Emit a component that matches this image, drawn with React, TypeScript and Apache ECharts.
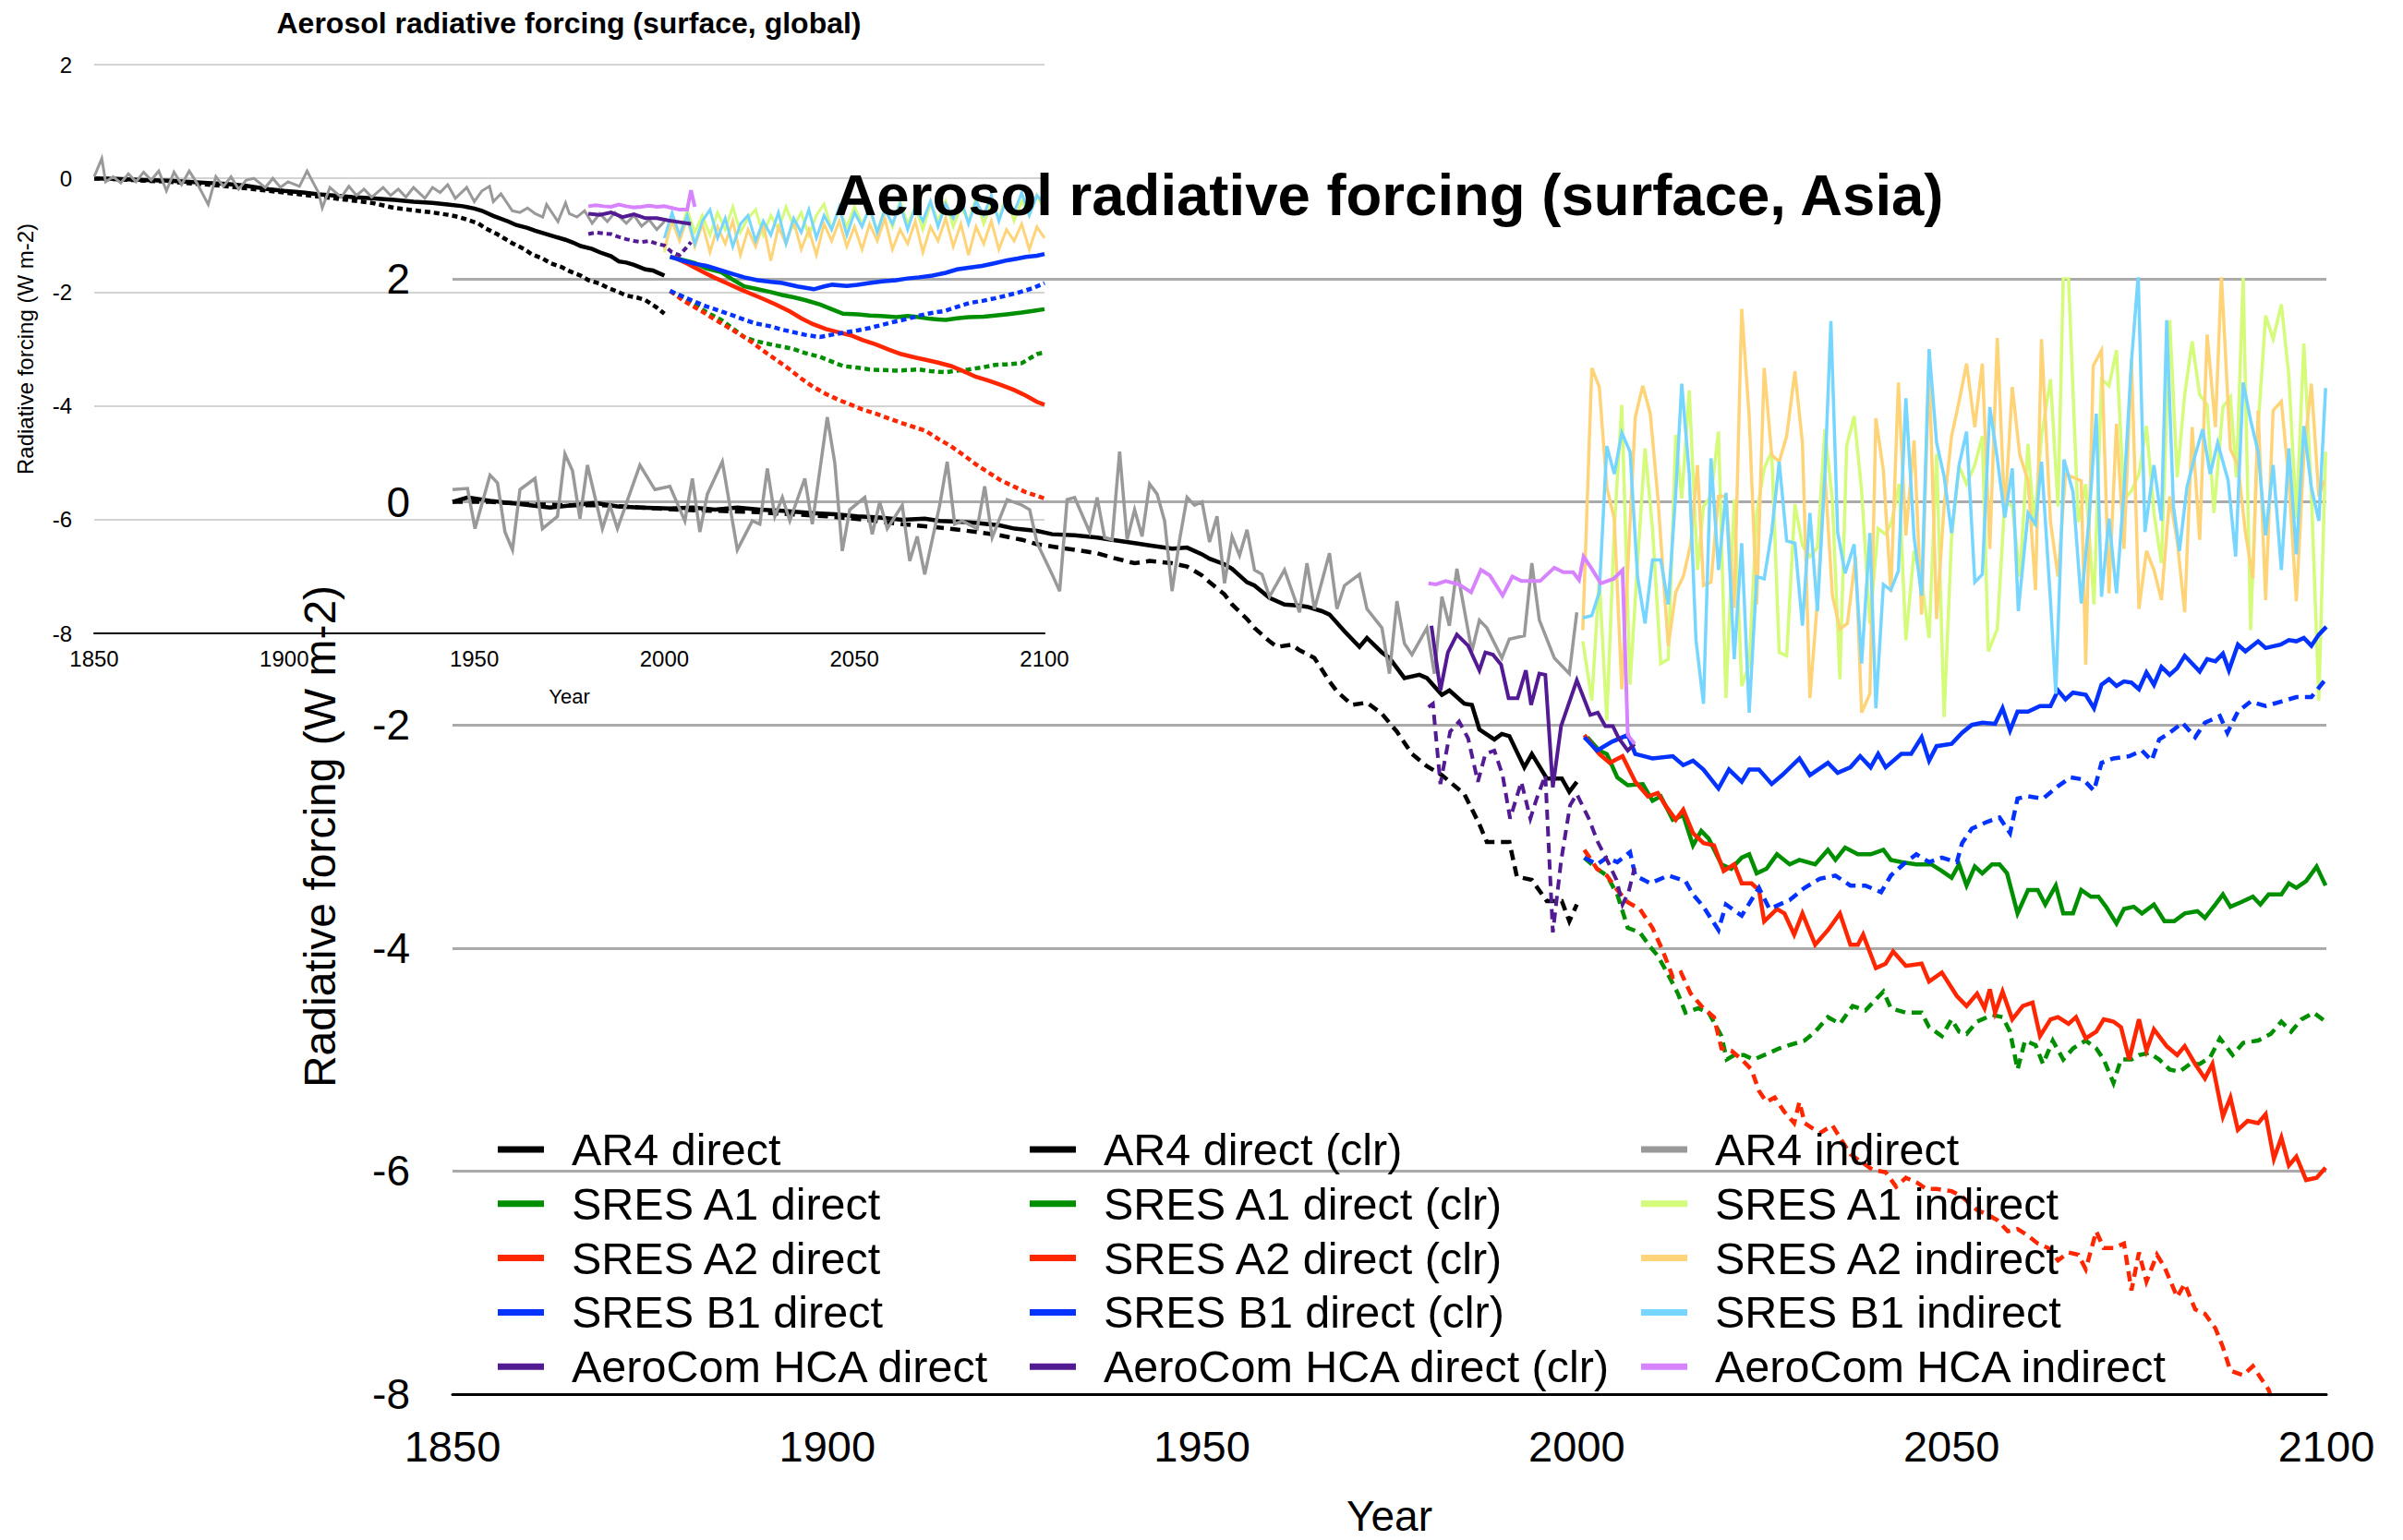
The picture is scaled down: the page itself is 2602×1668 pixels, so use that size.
import React, { useEffect, useRef } from "react";
import * as echarts from "echarts";

type P = [number, number];

// ---------- Tick values ----------
const yearTicks = [1850, 1900, 1950, 2000, 2050, 2100];
const forcingTicks = [-8, -6, -4, -2, 0, 2];

// ---------- Main chart (Asia) ----------
const ar4DirectAsia: P[] = [[1850,0.00],[1852,0.04],[1855,0.01],[1859,-0.02],[1863,-0.05],[1866,-0.03],[1869,-0.01],[1872,-0.04],[1875,-0.05],[1879,-0.06],[1882,-0.05],[1885,-0.07],[1888,-0.05],[1891,-0.07],[1894,-0.08],[1898,-0.10],[1901,-0.11],[1904,-0.13],[1907,-0.14],[1910,-0.16],[1913,-0.15],[1915,-0.17],[1918,-0.18],[1920,-0.19],[1923,-0.21],[1925,-0.24],[1928,-0.26],[1930,-0.29],[1933,-0.30],[1936,-0.32],[1938,-0.34],[1941,-0.37],[1943,-0.39],[1946,-0.42],[1948,-0.41],[1950,-0.47],[1951,-0.51],[1953,-0.56],[1954,-0.60],[1956,-0.72],[1957,-0.75],[1959,-0.86],[1961,-0.92],[1963,-0.93],[1964,-0.94],[1966,-0.98],[1967,-1.01],[1969,-1.16],[1971,-1.30],[1972,-1.22],[1974,-1.35],[1975,-1.40],[1977,-1.58],[1979,-1.55],[1980,-1.58],[1982,-1.73],[1983,-1.69],[1985,-1.81],[1986,-1.82],[1987,-2.04],[1989,-2.13],[1990,-2.08],[1991,-2.10],[1993,-2.38],[1994,-2.26],[1996,-2.48],[1998,-2.48],[1999,-2.60],[2000,-2.51]];
const ar4ClrAsia: P[] = [[1850,0.00],[1855,0.00],[1860,-0.02],[1865,-0.03],[1870,-0.03],[1875,-0.05],[1880,-0.07],[1885,-0.08],[1890,-0.09],[1895,-0.11],[1900,-0.13],[1905,-0.16],[1910,-0.20],[1915,-0.23],[1920,-0.27],[1923,-0.30],[1926,-0.34],[1928,-0.38],[1931,-0.41],[1933,-0.43],[1936,-0.46],[1938,-0.50],[1941,-0.55],[1943,-0.53],[1946,-0.55],[1948,-0.58],[1950,-0.66],[1951,-0.72],[1953,-0.83],[1954,-0.92],[1956,-1.05],[1957,-1.13],[1959,-1.25],[1960,-1.30],[1962,-1.28],[1963,-1.33],[1965,-1.40],[1967,-1.61],[1968,-1.70],[1970,-1.82],[1972,-1.80],[1974,-1.90],[1976,-2.06],[1978,-2.26],[1980,-2.37],[1982,-2.45],[1985,-2.62],[1987,-2.89],[1988,-3.05],[1991,-3.05],[1992,-3.36],[1994,-3.39],[1996,-3.58],[1998,-3.58],[1999,-3.76],[2000,-3.61]];
const ar4IndirectAsia: P[] = [[1850,0.11],[1852,0.12],[1853,-0.24],[1855,0.24],[1856,0.17],[1857,-0.27],[1858,-0.43],[1859,0.11],[1861,0.21],[1862,-0.24],[1864,-0.13],[1865,0.43],[1866,0.28],[1867,-0.15],[1868,0.33],[1870,-0.24],[1871,-0.03],[1872,-0.24],[1875,0.33],[1877,0.11],[1879,0.14],[1881,-0.17],[1882,0.21],[1883,-0.27],[1884,0.07],[1886,0.36],[1888,-0.43],[1890,-0.17],[1891,-0.20],[1892,0.30],[1893,-0.13],[1894,0.04],[1895,-0.17],[1897,0.21],[1898,-0.20],[1900,0.76],[1901,0.35],[1902,-0.44],[1903,-0.07],[1905,0.04],[1906,-0.29],[1907,0.00],[1908,-0.24],[1910,-0.03],[1911,-0.53],[1912,-0.31],[1913,-0.65],[1915,-0.03],[1916,0.36],[1917,-0.20],[1918,-0.17],[1920,-0.24],[1921,0.14],[1922,-0.32],[1924,0.02],[1926,-0.03],[1927,-0.07],[1928,-0.37],[1930,-0.65],[1931,-0.80],[1932,0.02],[1933,0.04],[1935,-0.27],[1936,0.04],[1937,-0.32],[1938,-0.34],[1939,0.45],[1940,-0.34],[1941,-0.07],[1942,-0.31],[1943,0.16],[1944,0.07],[1945,-0.17],[1946,-0.80],[1947,-0.34],[1948,0.04],[1949,-0.03],[1950,0.00],[1951,-0.36],[1952,-0.13],[1953,-0.73],[1954,-0.31],[1955,-0.48],[1956,-0.25],[1957,-0.61],[1958,-0.65],[1959,-0.85],[1961,-0.61],[1963,-0.99],[1964,-0.55],[1965,-0.96],[1967,-0.46],[1968,-0.96],[1969,-0.75],[1971,-0.65],[1972,-0.96],[1974,-1.13],[1975,-1.54],[1976,-0.89],[1977,-1.27],[1978,-1.37],[1980,-1.13],[1981,-1.54],[1982,-0.85],[1983,-1.11],[1984,-0.60],[1986,-1.34],[1987,-1.06],[1988,-1.13],[1990,-1.40],[1991,-1.23],[1993,-1.20],[1994,-0.55],[1995,-1.06],[1997,-1.40],[1999,-1.54],[2000,-0.99]];

const a1DirectAsia: P[] = [[2001.4,-2.11],[2003.0,-2.23],[2004.0,-2.26],[2005.4,-2.47],[2006.8,-2.54],[2008.8,-2.53],[2010.1,-2.68],[2011.2,-2.64],[2012.8,-2.85],[2014.2,-2.81],[2015.5,-3.08],[2016.6,-2.95],[2017.6,-3.02],[2019.3,-3.25],[2020.6,-3.29],[2022.0,-3.19],[2023.0,-3.16],[2024.0,-3.33],[2025.3,-3.29],[2026.7,-3.16],[2028.4,-3.25],[2029.7,-3.21],[2031.8,-3.25],[2033.5,-3.12],[2034.5,-3.21],[2035.8,-3.10],[2037.5,-3.16],[2039.2,-3.16],[2040.9,-3.12],[2041.9,-3.21],[2043.3,-3.23],[2045.3,-3.25],[2047.3,-3.25],[2048.7,-3.31],[2050.0,-3.37],[2051.0,-3.25],[2052.0,-3.44],[2053.1,-3.27],[2054.1,-3.33],[2055.4,-3.25],[2056.4,-3.25],[2057.4,-3.33],[2058.8,-3.69],[2060.2,-3.48],[2061.5,-3.48],[2062.5,-3.61],[2063.9,-3.44],[2064.9,-3.69],[2066.2,-3.69],[2067.3,-3.48],[2068.6,-3.54],[2069.6,-3.54],[2070.6,-3.63],[2072.0,-3.78],[2073.0,-3.65],[2074.3,-3.63],[2075.4,-3.69],[2077.0,-3.61],[2078.4,-3.76],[2079.7,-3.76],[2081.1,-3.69],[2082.8,-3.67],[2083.8,-3.73],[2085.2,-3.61],[2086.2,-3.52],[2087.2,-3.63],[2088.6,-3.59],[2090.2,-3.54],[2091.2,-3.61],[2092.3,-3.52],[2094.0,-3.52],[2095.0,-3.42],[2096.0,-3.46],[2097.3,-3.40],[2098.7,-3.27],[2099.9,-3.44]];
const a1ClrAsia: P[] = [[2001.0,-3.19],[2002.7,-3.29],[2004.0,-3.35],[2005.4,-3.52],[2006.8,-3.82],[2008.4,-3.86],[2009.8,-3.99],[2010.8,-4.07],[2012.2,-4.24],[2013.5,-4.41],[2014.5,-4.58],[2016.2,-4.54],[2017.6,-4.58],[2019.3,-4.79],[2020.0,-5.00],[2021.0,-4.96],[2022.3,-4.96],[2023.6,-5.00],[2025.7,-4.94],[2027.0,-4.90],[2028.4,-4.87],[2030.4,-4.83],[2031.8,-4.75],[2033.5,-4.62],[2035.1,-4.68],[2036.8,-4.52],[2038.5,-4.56],[2040.9,-4.39],[2041.9,-4.54],[2043.9,-4.58],[2046.0,-4.58],[2047.0,-4.71],[2048.7,-4.79],[2050.0,-4.64],[2051.0,-4.75],[2052.0,-4.77],[2053.4,-4.66],[2055.4,-4.60],[2056.8,-4.62],[2057.8,-4.75],[2058.8,-5.09],[2059.8,-4.83],[2061.2,-4.87],[2062.2,-5.04],[2063.5,-4.83],[2064.9,-5.00],[2066.2,-4.90],[2067.9,-4.83],[2069.3,-4.90],[2070.3,-5.00],[2071.6,-5.21],[2072.6,-5.00],[2074.0,-5.00],[2075.0,-4.96],[2076.4,-4.94],[2077.7,-5.00],[2079.1,-5.09],[2080.4,-5.11],[2081.8,-5.04],[2083.1,-5.04],[2084.5,-4.98],[2085.8,-4.81],[2087.5,-4.96],[2088.9,-4.85],[2090.9,-4.83],[2092.6,-4.77],[2094.0,-4.66],[2095.3,-4.75],[2096.7,-4.64],[2098.3,-4.58],[2099.9,-4.66]];
const a1IndirectAsia: P[] = [[2000.8,-1.25],[2002.0,-1.78],[2003.0,-0.68],[2004.0,-1.96],[2005.0,-0.24],[2006.0,0.87],[2007.1,-1.64],[2008.1,-0.55],[2009.1,0.48],[2010.1,-0.24],[2011.2,-1.45],[2012.2,-1.41],[2013.2,0.60],[2014.0,0.03],[2015.0,1.00],[2016.1,-0.61],[2016.9,-0.04],[2017.9,0.05],[2018.9,0.63],[2019.9,-1.76],[2021.0,0.02],[2022.0,-1.65],[2023.0,-1.46],[2024.0,-0.10],[2025.0,0.30],[2026.0,0.45],[2027.0,-1.35],[2028.0,-1.38],[2029.1,-0.02],[2030.1,-0.39],[2031.1,-0.49],[2032.1,-0.41],[2033.1,0.65],[2034.1,0.01],[2035.1,-1.59],[2036.0,0.50],[2037.0,0.77],[2038.0,0.10],[2039.1,-1.09],[2040.2,-0.24],[2041.2,-0.29],[2042.0,-0.18],[2043.0,0.16],[2043.9,-1.24],[2045.0,-0.44],[2046.0,-0.69],[2047.0,-1.22],[2048.0,0.43],[2049.0,-1.93],[2050.0,-0.32],[2051.0,0.32],[2052.0,0.16],[2053.1,0.33],[2054.1,0.59],[2054.9,-1.34],[2056.1,-1.14],[2057.1,0.01],[2058.1,-0.04],[2059.1,-0.67],[2060.2,0.52],[2061.0,-0.22],[2062.0,0.59],[2063.2,1.10],[2064.2,-0.04],[2064.9,2.01],[2065.6,2.01],[2066.9,-0.18],[2067.9,0.16],[2069.0,-0.92],[2070.0,1.10],[2071.0,1.04],[2072.0,1.36],[2073.0,0.02],[2074.0,0.10],[2075.0,0.25],[2076.0,0.68],[2077.0,-0.10],[2078.0,-0.55],[2079.1,1.63],[2080.1,0.22],[2081.1,0.96],[2082.1,1.44],[2083.1,0.96],[2084.1,0.87],[2085.0,-0.10],[2086.2,0.85],[2087.2,0.94],[2088.0,0.22],[2088.9,2.01],[2089.9,-1.15],[2090.9,0.68],[2091.9,1.67],[2092.9,1.46],[2094.0,1.77],[2095.0,1.13],[2096.0,-0.15],[2097.0,1.42],[2098.0,0.08],[2099.0,-1.78],[2099.9,0.45]];

const a2DirectAsia: P[] = [[2001.0,-2.09],[2003.0,-2.26],[2004.4,-2.34],[2006.1,-2.28],[2007.8,-2.51],[2009.5,-2.64],[2010.8,-2.61],[2011.8,-2.72],[2013.2,-2.85],[2014.2,-2.76],[2015.5,-2.97],[2016.9,-3.06],[2018.3,-3.08],[2019.6,-3.31],[2021.0,-3.25],[2022.0,-3.42],[2023.3,-3.42],[2024.3,-3.48],[2025.0,-3.76],[2026.7,-3.65],[2027.7,-3.69],[2029.0,-3.88],[2030.1,-3.69],[2031.8,-3.97],[2033.5,-3.84],[2035.1,-3.69],[2036.5,-3.97],[2037.5,-3.97],[2038.2,-3.88],[2039.9,-4.18],[2041.2,-4.14],[2042.2,-4.03],[2043.9,-4.16],[2046.0,-4.14],[2047.0,-4.30],[2048.7,-4.22],[2050.7,-4.43],[2052.0,-4.52],[2053.4,-4.41],[2054.4,-4.54],[2055.1,-4.37],[2055.8,-4.58],[2056.8,-4.39],[2058.1,-4.64],[2059.5,-4.52],[2060.8,-4.49],[2061.8,-4.79],[2063.2,-4.64],[2064.2,-4.62],[2065.6,-4.68],[2066.6,-4.62],[2067.9,-4.81],[2069.3,-4.75],[2070.3,-4.64],[2071.6,-4.66],[2072.6,-4.71],[2073.7,-5.00],[2075.0,-4.64],[2076.0,-4.92],[2077.0,-4.73],[2078.7,-4.88],[2080.1,-4.96],[2081.1,-4.88],[2082.5,-5.04],[2083.8,-5.17],[2084.8,-5.04],[2086.2,-5.51],[2087.2,-5.34],[2088.2,-5.63],[2089.5,-5.55],[2090.9,-5.57],[2091.9,-5.49],[2093.0,-5.89],[2094.0,-5.70],[2095.0,-5.95],[2096.0,-5.87],[2097.3,-6.08],[2098.7,-6.06],[2099.9,-5.97]];
const a2ClrAsia: P[] = [[2001.0,-3.12],[2002.7,-3.29],[2004.0,-3.35],[2005.4,-3.48],[2006.8,-3.59],[2008.4,-3.65],[2010.1,-3.82],[2011.5,-4.03],[2012.8,-4.26],[2013.9,-4.22],[2015.2,-4.41],[2016.9,-4.54],[2018.3,-4.62],[2019.3,-4.90],[2020.6,-4.92],[2022.0,-5.00],[2023.3,-5.09],[2024.3,-5.28],[2025.3,-5.38],[2026.4,-5.34],[2027.7,-5.47],[2029.0,-5.57],[2029.7,-5.38],[2030.4,-5.57],[2032.4,-5.66],[2034.1,-5.59],[2035.1,-5.70],[2036.5,-5.85],[2037.8,-5.91],[2039.5,-5.99],[2041.2,-6.01],[2042.6,-6.14],[2043.9,-6.06],[2045.3,-6.10],[2046.6,-6.16],[2048.0,-6.16],[2050.0,-6.18],[2051.4,-6.23],[2053.4,-6.35],[2054.8,-6.39],[2056.1,-6.44],[2057.5,-6.54],[2058.8,-6.52],[2060.2,-6.58],[2061.5,-6.65],[2062.9,-6.69],[2064.2,-6.80],[2065.6,-6.73],[2066.9,-6.75],[2067.9,-6.88],[2069.3,-6.54],[2070.3,-6.69],[2071.6,-6.69],[2073.0,-6.65],[2074.0,-7.07],[2075.0,-6.73],[2076.0,-6.99],[2077.4,-6.75],[2078.4,-6.86],[2080.1,-7.13],[2081.1,-7.01],[2082.5,-7.24],[2083.8,-7.28],[2085.2,-7.41],[2086.2,-7.58],[2087.2,-7.79],[2088.9,-7.83],[2090.2,-7.75],[2091.2,-7.85],[2092.3,-7.96],[2092.6,-8.02]];
const a2IndirectAsia: P[] = [[2000.8,-1.15],[2002.0,1.20],[2003.0,1.03],[2004.0,0.13],[2005.0,-0.15],[2006.0,-1.68],[2007.8,0.76],[2008.8,1.04],[2009.8,0.79],[2010.8,0.05],[2012.2,-1.29],[2013.2,-0.81],[2014.2,-0.67],[2015.2,-0.38],[2016.1,0.33],[2016.9,-0.75],[2017.9,-0.72],[2018.9,0.05],[2019.9,0.05],[2021.0,-0.95],[2022.0,1.73],[2023.0,0.76],[2024.0,-0.92],[2025.0,1.20],[2026.0,0.42],[2027.0,0.36],[2028.0,0.59],[2029.1,1.17],[2030.1,0.53],[2031.1,-1.76],[2032.1,-0.89],[2033.1,0.25],[2034.1,-0.84],[2035.1,-1.14],[2036.1,-1.09],[2037.2,-0.49],[2038.0,-1.89],[2039.1,-1.72],[2039.9,0.75],[2040.9,0.28],[2041.9,-0.81],[2042.9,1.07],[2043.9,-0.30],[2045.0,0.55],[2046.0,-1.01],[2047.0,1.23],[2048.0,-1.05],[2049.0,-0.04],[2050.0,0.59],[2051.0,0.90],[2052.0,1.24],[2053.1,0.67],[2054.1,1.24],[2055.1,-0.42],[2056.1,1.47],[2057.1,-0.12],[2058.1,1.03],[2059.1,0.42],[2060.2,0.19],[2061.2,-0.79],[2062.0,1.46],[2063.2,-0.18],[2064.2,-0.67],[2065.2,0.25],[2066.2,0.22],[2067.3,0.19],[2067.9,-1.46],[2068.9,1.22],[2070.0,1.36],[2071.0,-0.82],[2072.0,0.70],[2073.0,-0.42],[2074.0,1.27],[2075.0,-0.96],[2076.0,-0.44],[2077.0,-0.61],[2078.0,-0.88],[2079.1,0.05],[2080.1,-0.35],[2081.1,-0.99],[2082.1,0.67],[2083.1,-0.34],[2084.1,1.50],[2085.2,0.67],[2086.0,2.03],[2087.2,0.47],[2088.2,0.33],[2089.2,-0.27],[2090.2,-0.69],[2090.9,0.82],[2091.9,-0.88],[2092.9,0.82],[2094.0,0.90],[2095.0,0.19],[2096.0,-0.89],[2097.0,0.42],[2098.0,1.06],[2099.0,0.05],[2099.7,0.19]];

const b1DirectAsia: P[] = [[2001.0,-2.11],[2002.7,-2.23],[2004.7,-2.15],[2006.8,-2.09],[2007.8,-2.26],[2010.1,-2.30],[2012.8,-2.28],[2014.2,-2.36],[2015.5,-2.32],[2016.9,-2.40],[2018.9,-2.57],[2020.3,-2.40],[2022.0,-2.51],[2023.0,-2.40],[2024.3,-2.40],[2026.0,-2.53],[2027.4,-2.45],[2029.7,-2.30],[2031.1,-2.45],[2033.5,-2.34],[2034.8,-2.43],[2036.5,-2.38],[2037.8,-2.28],[2039.2,-2.38],[2040.2,-2.26],[2041.2,-2.38],[2043.3,-2.26],[2044.6,-2.26],[2046.0,-2.11],[2047.0,-2.32],[2048.0,-2.19],[2050.0,-2.17],[2051.4,-2.07],[2052.7,-2.00],[2054.1,-1.98],[2055.8,-1.99],[2056.8,-1.85],[2057.8,-2.05],[2058.8,-1.88],[2060.2,-1.88],[2061.8,-1.83],[2063.2,-1.83],[2064.2,-1.69],[2065.2,-1.77],[2066.2,-1.71],[2067.9,-1.73],[2069.0,-1.85],[2070.0,-1.64],[2071.0,-1.59],[2072.0,-1.65],[2073.0,-1.61],[2074.0,-1.62],[2075.0,-1.68],[2076.0,-1.53],[2077.0,-1.64],[2078.0,-1.48],[2079.1,-1.55],[2080.1,-1.49],[2081.1,-1.38],[2082.1,-1.45],[2083.1,-1.52],[2084.1,-1.41],[2085.2,-1.43],[2086.2,-1.36],[2087.0,-1.51],[2088.2,-1.28],[2089.2,-1.34],[2090.9,-1.25],[2091.9,-1.31],[2093.9,-1.28],[2095.0,-1.24],[2096.0,-1.25],[2097.0,-1.22],[2098.0,-1.29],[2099.0,-1.19],[2100.0,-1.12]];
const b1ClrAsia: P[] = [[2001.0,-3.19],[2002.7,-3.25],[2004.0,-3.19],[2005.4,-3.23],[2007.1,-3.14],[2007.8,-3.35],[2009.8,-3.42],[2012.2,-3.35],[2014.5,-3.40],[2015.5,-3.52],[2016.9,-3.63],[2018.9,-3.84],[2019.9,-3.61],[2022.0,-3.71],[2024.3,-3.46],[2025.7,-3.65],[2028.4,-3.57],[2030.4,-3.46],[2032.4,-3.38],[2034.5,-3.35],[2036.5,-3.44],[2038.5,-3.44],[2040.6,-3.50],[2041.9,-3.35],[2043.9,-3.23],[2045.3,-3.16],[2047.0,-3.23],[2048.7,-3.19],[2050.7,-3.23],[2051.4,-3.06],[2052.7,-2.93],[2054.7,-2.87],[2056.4,-2.83],[2057.8,-2.97],[2058.8,-2.66],[2060.2,-2.64],[2062.2,-2.66],[2064.2,-2.55],[2065.9,-2.47],[2067.6,-2.49],[2069.0,-2.59],[2070.0,-2.34],[2071.6,-2.30],[2073.7,-2.28],[2075.4,-2.23],[2076.7,-2.32],[2077.7,-2.13],[2079.1,-2.07],[2080.8,-1.98],[2082.5,-2.11],[2083.8,-1.98],[2085.8,-1.92],[2086.8,-2.07],[2088.2,-1.88],[2089.9,-1.79],[2091.9,-1.83],[2094.0,-1.79],[2096.0,-1.75],[2098.0,-1.75],[2099.9,-1.59]];
const b1IndirectAsia: P[] = [[2000.8,-1.04],[2002.0,-1.02],[2003.0,-0.81],[2004.0,0.50],[2005.0,0.25],[2006.0,0.62],[2007.1,0.45],[2008.1,-0.67],[2009.1,-1.09],[2010.1,-0.52],[2011.2,-0.52],[2012.2,-0.92],[2013.2,0.08],[2014.0,1.06],[2015.0,0.25],[2015.9,-1.24],[2016.9,-1.81],[2017.9,0.39],[2018.9,-0.61],[2019.9,0.08],[2021.0,-1.41],[2022.0,-0.37],[2023.0,-1.89],[2024.0,-0.67],[2025.0,-0.69],[2026.0,-0.27],[2027.0,0.36],[2028.0,-0.35],[2029.1,-0.37],[2030.1,-1.11],[2031.1,-0.10],[2032.1,-0.98],[2033.1,0.25],[2033.9,1.62],[2034.8,-0.27],[2035.8,-0.64],[2037.0,-0.38],[2038.0,-1.45],[2039.1,-0.28],[2039.9,-1.85],[2040.9,-0.74],[2041.9,-0.79],[2042.9,-0.62],[2043.9,0.93],[2045.0,-0.32],[2046.0,-0.84],[2047.0,1.37],[2048.0,0.53],[2049.0,0.23],[2050.0,-0.28],[2051.0,0.33],[2052.0,0.63],[2053.1,-0.72],[2054.1,-0.65],[2055.1,0.85],[2056.1,0.39],[2057.1,-0.14],[2058.1,0.30],[2058.9,-0.98],[2060.2,-0.10],[2061.2,-0.20],[2062.0,0.36],[2063.2,-0.89],[2063.9,-1.72],[2065.0,0.38],[2066.2,0.09],[2067.3,-0.91],[2068.3,-0.18],[2069.3,0.79],[2070.0,-0.85],[2071.0,-0.15],[2072.0,-0.82],[2073.0,0.10],[2074.0,1.26],[2074.9,2.03],[2075.8,-0.27],[2077.0,0.33],[2078.0,-0.17],[2078.7,1.63],[2079.6,-0.04],[2080.4,-0.44],[2081.4,0.13],[2082.5,0.42],[2083.5,0.65],[2084.5,0.25],[2085.5,0.53],[2086.9,0.19],[2087.9,-0.49],[2088.9,1.07],[2089.9,0.73],[2090.9,0.45],[2091.9,-0.30],[2092.9,0.33],[2094.0,-0.61],[2095.0,0.48],[2096.0,-0.47],[2097.0,0.68],[2098.0,0.13],[2099.0,-0.17],[2099.9,1.02]];

const hcaDirectAsia: P[] = [[1980.6,-1.11],[1981.8,-1.69],[1982.8,-1.35],[1984.0,-1.19],[1985.5,-1.29],[1987.0,-1.51],[1987.8,-1.35],[1988.8,-1.37],[1989.9,-1.46],[1990.9,-1.76],[1992.1,-1.76],[1993.2,-1.51],[1993.9,-1.82],[1995.0,-1.54],[1995.8,-1.55],[1996.8,-2.56],[1997.9,-2.01],[2000.0,-1.60],[2001.8,-1.91],[2002.8,-1.89],[2003.8,-2.01],[2004.8,-2.01],[2005.6,-2.12],[2006.8,-2.23],[2007.7,-2.17]];
const hcaClrAsia: P[] = [[1980.2,-1.84],[1980.8,-1.81],[1981.8,-2.53],[1983.1,-2.06],[1984.3,-1.97],[1985.5,-2.12],[1986.8,-2.51],[1987.8,-2.26],[1989.0,-2.23],[1990.1,-2.45],[1991.1,-2.84],[1992.6,-2.51],[1993.8,-2.84],[1994.6,-2.67],[1995.8,-2.45],[1996.8,-3.86],[1997.9,-3.22],[1999.1,-2.72],[2000.0,-2.62],[2001.6,-2.84],[2002.8,-3.05],[2004.1,-3.22],[2005.3,-3.39],[2006.1,-3.61],[2006.9,-3.50],[2007.7,-3.28]];
const hcaIndirectAsia: P[] = [[1980.2,-0.73],[1981.2,-0.74],[1982.5,-0.71],[1984.3,-0.74],[1985.9,-0.81],[1987.2,-0.61],[1988.4,-0.66],[1990.1,-0.84],[1991.4,-0.67],[1992.6,-0.71],[1993.8,-0.71],[1995.1,-0.71],[1997.0,-0.59],[1998.2,-0.63],[1999.5,-0.63],[2000.3,-0.70],[2000.9,-0.49],[2001.9,-0.59],[2003.2,-0.73],[2004.9,-0.69],[2006.1,-0.61],[2006.8,-2.09],[2007.7,-2.17]];

// ---------- Inset chart (global) ----------
const ar4DirectGlobal: P[] = [[1850,0],[1856,-0.01],[1863,-0.03],[1870,-0.04],[1875,-0.06],[1880,-0.08],[1885,-0.10],[1890,-0.13],[1896,-0.19],[1900,-0.22],[1905,-0.25],[1909,-0.28],[1913,-0.30],[1918,-0.33],[1923,-0.35],[1929,-0.38],[1934,-0.41],[1939,-0.43],[1943,-0.46],[1947,-0.49],[1950,-0.53],[1952,-0.57],[1955,-0.66],[1959,-0.76],[1961,-0.82],[1964,-0.87],[1966,-0.92],[1969,-0.98],[1971,-1.02],[1974,-1.08],[1976,-1.13],[1978,-1.19],[1981,-1.24],[1983,-1.30],[1986,-1.37],[1988,-1.46],[1990,-1.48],[1992,-1.52],[1995,-1.60],[1997,-1.62],[1998,-1.65],[2000,-1.71]];
const ar4ClrGlobal: P[] = [[1850,0],[1860,-0.03],[1870,-0.06],[1880,-0.11],[1888,-0.16],[1896,-0.22],[1904,-0.28],[1913,-0.35],[1918,-0.39],[1923,-0.43],[1929,-0.52],[1934,-0.56],[1939,-0.60],[1943,-0.64],[1946,-0.68],[1951,-0.79],[1953,-0.88],[1956,-0.98],[1958,-1.06],[1960,-1.14],[1963,-1.24],[1965,-1.33],[1968,-1.41],[1970,-1.49],[1973,-1.56],[1975,-1.63],[1978,-1.71],[1980,-1.79],[1983,-1.85],[1985,-1.92],[1988,-2.00],[1990,-2.06],[1993,-2.10],[1995,-2.14],[1998,-2.27],[2000,-2.38]];
const ar4IndirectGlobal: P[] = [[1850,0.03],[1852,0.35],[1853,-0.06],[1855,0.03],[1857,-0.08],[1859,0.08],[1861,-0.06],[1863,0.11],[1865,-0.03],[1867,0.13],[1869,-0.22],[1871,0.11],[1873,-0.11],[1875,0.13],[1877,-0.08],[1880,-0.46],[1882,0.03],[1884,-0.14],[1886,0.03],[1888,-0.19],[1890,-0.03],[1892,0.00],[1895,-0.16],[1897,0.00],[1899,-0.16],[1901,-0.06],[1904,-0.14],[1906,0.13],[1909,-0.25],[1910,-0.52],[1912,-0.16],[1915,-0.33],[1917,-0.14],[1919,-0.30],[1921,-0.19],[1923,-0.33],[1926,-0.16],[1928,-0.30],[1930,-0.19],[1932,-0.33],[1934,-0.16],[1937,-0.35],[1939,-0.16],[1941,-0.25],[1943,-0.11],[1945,-0.35],[1948,-0.16],[1950,-0.41],[1952,-0.22],[1954,-0.14],[1955,-0.41],[1957,-0.27],[1960,-0.57],[1962,-0.60],[1964,-0.52],[1966,-0.62],[1968,-0.68],[1969,-0.46],[1972,-0.76],[1974,-0.43],[1975,-0.62],[1977,-0.68],[1979,-0.57],[1981,-0.79],[1983,-0.62],[1985,-0.76],[1987,-0.60],[1990,-0.79],[1992,-0.65],[1994,-0.84],[1996,-0.73],[1998,-0.90],[2000,-0.76]];

const a1DirectGlobal: P[] = [[2001.5,-1.38],[2004,-1.42],[2008,-1.49],[2011,-1.58],[2015,-1.65],[2018,-1.78],[2021,-1.90],[2024,-1.94],[2028,-2.00],[2031,-2.05],[2034,-2.09],[2037,-2.14],[2041,-2.22],[2044,-2.30],[2047,-2.38],[2051,-2.39],[2054,-2.41],[2057,-2.42],[2061,-2.44],[2064,-2.42],[2067,-2.44],[2070,-2.47],[2074,-2.49],[2077,-2.46],[2080,-2.44],[2084,-2.43],[2087,-2.41],[2090,-2.39],[2094,-2.36],[2097,-2.33],[2100,-2.30]];
const a1ClrGlobal: P[] = [[2001.5,-1.98],[2005,-2.10],[2008,-2.22],[2011,-2.35],[2015,-2.49],[2018,-2.64],[2021,-2.79],[2024,-2.86],[2028,-2.92],[2031,-2.96],[2034,-3.00],[2037,-3.07],[2041,-3.14],[2044,-3.22],[2047,-3.30],[2051,-3.33],[2054,-3.36],[2057,-3.37],[2061,-3.38],[2064,-3.37],[2067,-3.36],[2070,-3.39],[2074,-3.41],[2077,-3.38],[2080,-3.36],[2084,-3.32],[2087,-3.28],[2090,-3.27],[2094,-3.25],[2098,-3.09],[2100,-3.06]];
const a1IndirectGlobal: P[] = [[2000,-1.30],[2002,-0.70],[2004,-1.00],[2006,-0.55],[2008,-0.95],[2010,-0.65],[2012,-1.00],[2014,-0.60],[2016,-0.90],[2018,-0.50],[2020,-0.95],[2022,-0.70],[2024,-0.55],[2026,-1.00],[2028,-0.65],[2030,-0.90],[2032,-0.50],[2034,-0.85],[2036,-0.60],[2038,-1.00],[2040,-0.65],[2042,-0.45],[2044,-0.90],[2046,-0.55],[2048,-0.85],[2050,-0.50],[2052,-0.80],[2054,-0.55],[2056,-0.95],[2058,-0.50],[2060,-0.85],[2062,-0.40],[2064,-0.80],[2066,-0.50],[2068,-0.90],[2070,-0.45],[2072,-0.75],[2074,-0.40],[2076,-0.85],[2078,-0.50],[2080,-0.75],[2082,-0.35],[2084,-0.80],[2086,-0.45],[2088,-0.70],[2090,-0.30],[2092,-0.75],[2094,-0.40],[2096,-0.65],[2098,-0.30],[2100,-0.55]];

const a2DirectGlobal: P[] = [[2002.3,-1.38],[2006,-1.50],[2009.7,-1.63],[2013,-1.74],[2016.3,-1.84],[2020,-1.95],[2022.8,-2.03],[2026,-2.12],[2029.4,-2.22],[2033,-2.34],[2036,-2.46],[2039,-2.56],[2042.5,-2.65],[2046,-2.71],[2049.1,-2.76],[2052,-2.84],[2055.7,-2.92],[2059,-3.01],[2062.3,-3.09],[2066,-3.15],[2068.8,-3.19],[2072,-3.24],[2075.4,-3.30],[2079,-3.40],[2082,-3.49],[2085,-3.55],[2088.5,-3.63],[2092,-3.72],[2095.1,-3.82],[2098,-3.93],[2100,-3.98]];
const a2ClrGlobal: P[] = [[2001.5,-1.98],[2005,-2.15],[2009.7,-2.33],[2013,-2.47],[2016.3,-2.60],[2020,-2.75],[2022.8,-2.87],[2026,-3.03],[2029.4,-3.19],[2033,-3.36],[2036,-3.52],[2039,-3.66],[2042.5,-3.79],[2046,-3.90],[2049.1,-3.98],[2052,-4.06],[2055.7,-4.14],[2059,-4.22],[2062.3,-4.30],[2066,-4.38],[2068.8,-4.44],[2072,-4.58],[2075.4,-4.71],[2079,-4.88],[2082,-5.03],[2085,-5.16],[2088.5,-5.31],[2092,-5.42],[2095.1,-5.52],[2098,-5.58],[2100,-5.63]];
const a2IndirectGlobal: P[] = [[2000,-1.25],[2002,-0.75],[2004,-1.10],[2006,-0.70],[2008,-1.20],[2010,-0.80],[2012,-1.30],[2014,-0.85],[2016,-1.15],[2018,-0.75],[2020,-1.35],[2022,-0.90],[2024,-1.20],[2026,-0.80],[2028,-1.45],[2030,-0.85],[2032,-1.15],[2034,-0.75],[2036,-1.25],[2038,-0.90],[2040,-1.35],[2042,-0.80],[2044,-1.10],[2046,-0.75],[2048,-1.20],[2050,-0.85],[2052,-1.25],[2054,-0.80],[2056,-1.10],[2058,-0.70],[2060,-1.25],[2062,-0.90],[2064,-1.15],[2066,-0.75],[2068,-1.30],[2070,-0.85],[2072,-1.10],[2074,-0.70],[2076,-1.20],[2078,-0.80],[2080,-1.35],[2082,-0.85],[2084,-1.15],[2086,-0.75],[2088,-1.25],[2090,-0.90],[2092,-1.10],[2094,-0.80],[2096,-1.25],[2098,-0.85],[2100,-1.05]];

const b1DirectGlobal: P[] = [[2001.5,-1.38],[2005,-1.45],[2008,-1.50],[2011.3,-1.54],[2015,-1.62],[2017.9,-1.68],[2021,-1.74],[2024.5,-1.79],[2028,-1.82],[2031,-1.84],[2035,-1.90],[2039.3,-1.95],[2042,-1.90],[2044.2,-1.87],[2048,-1.89],[2050.8,-1.87],[2054,-1.84],[2057.3,-1.81],[2061,-1.79],[2063.9,-1.76],[2067,-1.74],[2070.5,-1.71],[2074,-1.66],[2077,-1.60],[2080,-1.57],[2083.6,-1.54],[2087,-1.49],[2090.2,-1.44],[2093,-1.41],[2095.1,-1.38],[2098,-1.36],[2100,-1.33]];
const b1ClrGlobal: P[] = [[2001.5,-1.98],[2005,-2.08],[2008.1,-2.17],[2011,-2.25],[2014.6,-2.33],[2018,-2.41],[2021.2,-2.49],[2024,-2.55],[2027.8,-2.60],[2031,-2.66],[2034.3,-2.71],[2037,-2.75],[2040.9,-2.79],[2044,-2.75],[2047.5,-2.71],[2051,-2.67],[2054,-2.63],[2057,-2.58],[2060.6,-2.52],[2064,-2.47],[2067.2,-2.41],[2070,-2.37],[2073.8,-2.33],[2077,-2.26],[2080.3,-2.19],[2084,-2.15],[2086.9,-2.11],[2090,-2.06],[2093.5,-2.00],[2097,-1.93],[2100,-1.84]];
const b1IndirectGlobal: P[] = [[2000,-1.05],[2002,-0.60],[2004,-1.00],[2006,-0.65],[2008,-1.15],[2010,-0.75],[2012,-0.55],[2014,-1.05],[2016,-0.70],[2018,-1.20],[2020,-0.80],[2022,-0.65],[2024,-1.10],[2026,-0.75],[2028,-1.00],[2030,-0.60],[2032,-1.15],[2034,-0.70],[2036,-0.95],[2038,-0.55],[2040,-1.05],[2042,-0.65],[2044,-0.90],[2046,-0.50],[2048,-1.00],[2050,-0.60],[2052,-0.85],[2054,-0.50],[2056,-0.95],[2058,-0.55],[2060,-0.80],[2062,-0.45],[2064,-0.90],[2066,-0.50],[2068,-0.75],[2070,-0.40],[2072,-0.85],[2074,-0.45],[2076,-0.70],[2078,-0.35],[2080,-0.80],[2082,-0.40],[2084,-0.65],[2086,-0.30],[2088,-0.75],[2090,-0.35],[2092,-0.60],[2094,-0.25],[2096,-0.65],[2098,-0.30],[2100,-0.45]];

const hcaDirectGlobal: P[] = [[1980,-0.62],[1983,-0.64],[1986,-0.60],[1989,-0.68],[1992,-0.63],[1995,-0.70],[1998,-0.70],[2001,-0.74],[2004,-0.77],[2007,-0.80]];
const hcaClrGlobal: P[] = [[1980,-0.98],[1982,-0.95],[1984,-0.97],[1986,-0.98],[1988,-1.03],[1990,-1.07],[1992,-1.10],[1994,-1.12],[1996,-1.10],[1998,-1.15],[2000,-1.18],[2002,-1.30],[2004,-1.35],[2006,-1.20],[2007,-1.12]];
const hcaIndirectGlobal: P[] = [[1980,-0.49],[1982,-0.47],[1984,-0.49],[1986,-0.50],[1988,-0.46],[1990,-0.49],[1992,-0.51],[1994,-0.50],[1996,-0.48],[1998,-0.50],[2000,-0.49],[2002,-0.52],[2004,-0.55],[2006,-0.55],[2007,-0.21],[2008,-0.50]];

// ---------- Legend names ----------
const legendCol1 = ["AR4 direct", "SRES A1 direct", "SRES A2 direct", "SRES B1 direct", "AeroCom HCA direct"];
const legendCol2 = ["AR4 direct (clr)", "SRES A1 direct (clr)", "SRES A2 direct (clr)", "SRES B1 direct (clr)", "AeroCom HCA direct (clr)"];
const legendCol3 = ["AR4 indirect", "SRES A1 indirect", "SRES A2 indirect", "SRES B1 indirect", "AeroCom HCA indirect"];

const C = {
  black: "#000000",
  gray: "#999999",
  green: "#008F00",
  red: "#FF2600",
  blue: "#0433FF",
  purple: "#531B93",
  lime: "#D4FB79",
  orange: "#FFD479",
  sky: "#76D6FF",
  lavender: "#D783FF",
};

const FONT = "Liberation Sans";

function mk(name: string, data: P[], color: string, width: number, dashed: number[] | null, idx: number) {
  return {
    name,
    type: "line",
    xAxisIndex: idx,
    yAxisIndex: idx,
    data,
    showSymbol: false,
    symbol: "none",
    silent: true,
    color,
    lineStyle: { color, width, type: dashed ? dashed : "solid", cap: "butt", join: "miter" },
    z: 2,
  };
}

export default function App() {
  const ref = useRef<HTMLDivElement>(null);
  useEffect(() => {
    if (!ref.current) return;
    const chart = echarts.init(ref.current, undefined, { renderer: "svg" });

    const mD = [11, 7];
    const iD = [6, 4];
    const mainSeries = [
      mk("AR4 direct", ar4DirectAsia, C.black, 4.5, null, 0),
      mk("AR4 direct (clr)", ar4ClrAsia, C.black, 4.5, mD, 0),
      mk("AR4 indirect", ar4IndirectAsia, C.gray, 3.5, null, 0),
      mk("SRES A1 direct", a1DirectAsia, C.green, 4.5, null, 0),
      mk("SRES A1 direct (clr)", a1ClrAsia, C.green, 4.5, mD, 0),
      mk("SRES A1 indirect", a1IndirectAsia, C.lime, 3.5, null, 0),
      mk("SRES A2 direct", a2DirectAsia, C.red, 4.5, null, 0),
      mk("SRES A2 direct (clr)", a2ClrAsia, C.red, 4.5, mD, 0),
      mk("SRES A2 indirect", a2IndirectAsia, C.orange, 3.5, null, 0),
      mk("SRES B1 direct", b1DirectAsia, C.blue, 4.5, null, 0),
      mk("SRES B1 direct (clr)", b1ClrAsia, C.blue, 4.5, mD, 0),
      mk("SRES B1 indirect", b1IndirectAsia, C.sky, 3.5, null, 0),
      mk("AeroCom HCA direct", hcaDirectAsia, C.purple, 4, null, 0),
      mk("AeroCom HCA direct (clr)", hcaClrAsia, C.purple, 4, mD, 0),
      mk("AeroCom HCA indirect", hcaIndirectAsia, C.lavender, 4, null, 0),
    ];
    const insetSeries = [
      mk("g AR4 direct", ar4DirectGlobal, C.black, 4.5, null, 1),
      mk("g AR4 direct (clr)", ar4ClrGlobal, C.black, 4.5, iD, 1),
      mk("g AR4 indirect", ar4IndirectGlobal, C.gray, 3, null, 1),
      mk("g SRES A1 direct", a1DirectGlobal, C.green, 4.5, null, 1),
      mk("g SRES A1 direct (clr)", a1ClrGlobal, C.green, 4.5, iD, 1),
      mk("g SRES A1 indirect", a1IndirectGlobal, C.lime, 3, null, 1),
      mk("g SRES A2 direct", a2DirectGlobal, C.red, 4.5, null, 1),
      mk("g SRES A2 direct (clr)", a2ClrGlobal, C.red, 4.5, iD, 1),
      mk("g SRES A2 indirect", a2IndirectGlobal, C.orange, 3, null, 1),
      mk("g SRES B1 direct", b1DirectGlobal, C.blue, 4.5, null, 1),
      mk("g SRES B1 direct (clr)", b1ClrGlobal, C.blue, 4.5, iD, 1),
      mk("g SRES B1 indirect", b1IndirectGlobal, C.sky, 3, null, 1),
      mk("g AeroCom HCA direct", hcaDirectGlobal, C.purple, 4, null, 1),
      mk("g AeroCom HCA direct (clr)", hcaClrGlobal, C.purple, 4, iD, 1),
      mk("g AeroCom HCA indirect", hcaIndirectGlobal, C.lavender, 4, null, 1),
    ];

    const legendBase = (data: string[], left: number) => ({
      data,
      orient: "vertical",
      left,
      top: 1220,
      icon: "rect",
      itemWidth: 50,
      itemHeight: 7,
      itemGap: 8.8,
      selectedMode: false,
      padding: 0,
      textStyle: { fontSize: 48.5, lineHeight: 50, color: "#000", fontFamily: FONT, padding: [0, 0, 0, 25] },
    });

    const yearFmt = (v: number) => String(v);

    chart.setOption({
      animation: false,
      backgroundColor: "#ffffff",
      textStyle: { fontFamily: FONT },
      grid: [
        { left: 490, right: 83, top: 302, bottom: 158, containLabel: false, outerBoundsMode: "none" },
        { left: 102, right: 1471, top: 70, bottom: 982, containLabel: false, outerBoundsMode: "none" },
      ],
      xAxis: [
        {
          gridIndex: 0, type: "value", min: yearTicks[0], max: yearTicks[yearTicks.length - 1], interval: 50,
          axisLine: { show: true, onZero: false, lineStyle: { color: "#000", width: 3 } },
          axisTick: { show: false }, splitLine: { show: false },
          axisLabel: { fontSize: 47, margin: 33, color: "#000", fontFamily: FONT, formatter: yearFmt },
          name: "Year", nameLocation: "middle", nameGap: 108,
          nameTextStyle: { fontSize: 46, lineHeight: 48, color: "#000", fontFamily: FONT },
          z: 5,
        },
        {
          gridIndex: 1, type: "value", min: yearTicks[0], max: yearTicks[yearTicks.length - 1], interval: 50,
          axisLine: { show: true, onZero: false, lineStyle: { color: "#000", width: 2 } },
          axisTick: { show: false }, splitLine: { show: false },
          axisLabel: { fontSize: 24, margin: 15, color: "#000", fontFamily: FONT, formatter: yearFmt },
          name: "Year", nameLocation: "middle", nameGap: 57,
          nameTextStyle: { fontSize: 22, color: "#000", fontFamily: FONT },
          z: 5,
        },
      ],
      yAxis: [
        {
          gridIndex: 0, type: "value", min: forcingTicks[0], max: forcingTicks[forcingTicks.length - 1], interval: 2,
          axisLine: { show: false }, axisTick: { show: false },
          splitLine: { show: true, showMinLine: false, lineStyle: { color: "#aaaaaa", width: 3 } },
          axisLabel: { fontSize: 46, margin: 46, color: "#000", fontFamily: FONT },
          name: "Radiative forcing (W m-2)", nameLocation: "middle", nameGap: 120, nameRotate: 90,
          nameTextStyle: { fontSize: 48, color: "#000", fontFamily: FONT },
        },
        {
          gridIndex: 1, type: "value", min: forcingTicks[0], max: forcingTicks[forcingTicks.length - 1], interval: 2,
          axisLine: { show: false }, axisTick: { show: false },
          splitLine: { show: true, showMinLine: false, lineStyle: { color: "#c4c4c4", width: 1.5 } },
          axisLabel: { fontSize: 24, margin: 24, color: "#000", fontFamily: FONT },
          name: "Radiative forcing (W m-2)", nameLocation: "middle", nameGap: 63, nameRotate: 90,
          nameTextStyle: { fontSize: 24, color: "#000", fontFamily: FONT },
        },
      ],
      legend: [legendBase(legendCol1, 539), legendBase(legendCol2, 1115), legendBase(legendCol3, 1777)],
      graphic: [
        {
          type: "text", x: 616, y: 25, z: 50,
          style: {
            text: "Aerosol radiative forcing (surface, global)",
            fontSize: 32, fontWeight: "bold", fontFamily: FONT, fill: "#000",
            align: "center", verticalAlign: "middle", textAlign: "center", textVerticalAlign: "middle",
          },
        },
        {
          type: "text", x: 1504, y: 211, z: 50,
          style: {
            text: "Aerosol radiative forcing (surface, Asia)",
            fontSize: 63.5, fontWeight: "bold", fontFamily: FONT, fill: "#000",
            align: "center", verticalAlign: "middle", textAlign: "center", textVerticalAlign: "middle",
          },
        },
      ],
      series: [...insetSeries, ...mainSeries],
    });

    return () => chart.dispose();
  }, []);

  return (
    <div
      ref={ref}
      style={{ position: "fixed", left: 0, top: 0, width: 2602, height: 1668, background: "#fff" }}
    />
  );
}
